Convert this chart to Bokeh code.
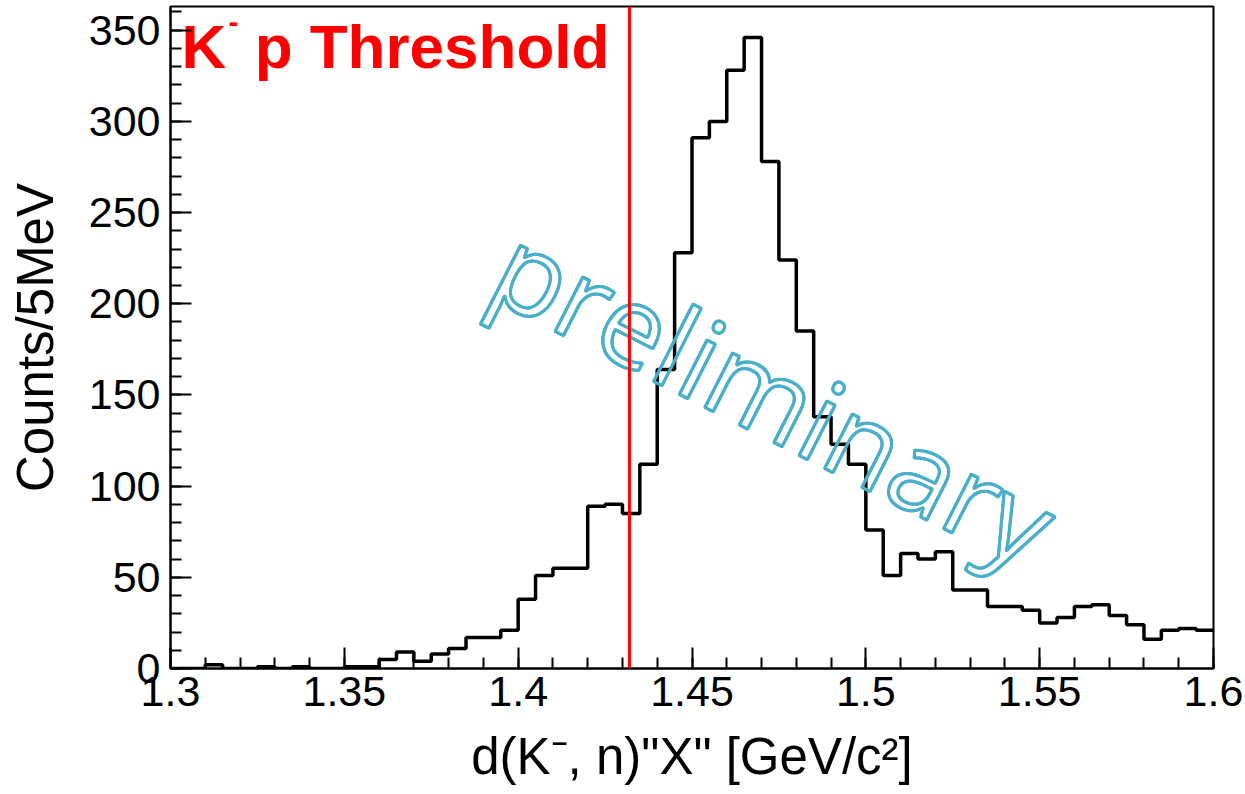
from bokeh.plotting import figure
from bokeh.models import FixedTicker, Span, Range1d
from bokeh.core.properties import value
from bokeh.embed import file_html
from bokeh.resources import INLINE

# ---- data ----
bin_low = 1.3
bin_width = 0.005
counts = [0, 0, 2, 0, 0, 1, 0, 1, 0, 0,
          1, 1, 5, 9, 4, 8, 11, 17, 17, 21,
          38, 51, 55, 55, 89, 90, 85, 112, 164, 228,
          291, 300, 328, 346, 278, 224, 185, 138, 123, 112,
          76, 51, 63, 60, 64, 43, 43, 34, 34, 32,
          25, 28, 34, 35, 29, 24, 16, 21, 22, 21]
threshold = 1.432  # K- p threshold [GeV/c^2]
x_ticks = [1.3, 1.35, 1.4, 1.45, 1.5, 1.55, 1.6]
x_tick_labels = ["1.3", "1.35", "1.4", "1.45", "1.5", "1.55", "1.6"]
x_minor = [round(1.3 + 0.01 * i, 3) for i in range(31)]
y_ticks = [0, 50, 100, 150, 200, 250, 300, 350]
y_minor = [10 * i for i in range(37)]

edges = [bin_low + i * bin_width for i in range(len(counts) + 1)]
ys = counts + [counts[-1]]

FONT = "Liberation Sans"

p = figure(width=1245, height=794,
           x_range=Range1d(1.3, 1.6), y_range=Range1d(0, 363),
           output_backend="svg", toolbar_location=None,
           min_border_left=170, min_border_right=32,
           min_border_top=6, min_border_bottom=126)
p.background_fill_color = "white"
p.border_fill_color = "white"
p.outline_line_color = "black"
p.outline_line_width = 2
p.xgrid.visible = False
p.ygrid.visible = False

p.xaxis.ticker = FixedTicker(ticks=x_ticks, minor_ticks=x_minor)
p.xaxis.major_label_overrides = {t: l for t, l in zip(x_ticks, x_tick_labels)}
p.yaxis.ticker = FixedTicker(ticks=y_ticks, minor_ticks=y_minor)

for ax in (p.xaxis[0], p.yaxis[0]):
    ax.major_tick_in = 21
    ax.major_tick_out = 0
    ax.minor_tick_in = 11
    ax.minor_tick_out = 0
    ax.axis_line_width = 2
    ax.major_tick_line_width = 2
    ax.minor_tick_line_width = 2
    ax.major_label_text_font = FONT
    ax.major_label_text_font_size = "43px"
    ax.major_label_text_color = "black"
    ax.axis_label_text_font = FONT
    ax.axis_label_text_font_size = "51px"
    ax.axis_label_text_font_style = "normal"
    ax.axis_label_text_color = "black"

p.xaxis.major_label_standoff = 8
p.yaxis.major_label_standoff = 10
p.xaxis.axis_label = 'd(K\u207b, n)"X" [GeV/c\u00b2]'
p.yaxis.axis_label = "Counts/5MeV"
p.xaxis.axis_label_standoff = 19
p.yaxis.axis_label_standoff = 22

# histogram outline
p.step(edges, ys, mode="after", line_width=3.5, line_color="black")

# threshold line
p.add_layout(Span(location=threshold, dimension="height",
                  line_color="#ff0000", line_width=3))

# threshold label
p.text(x=[1.30316], y=[341], text=["K"], text_font=value(FONT),
       text_font_style="bold", text_font_size="62px", text_color="#ff0000",
       text_baseline="alphabetic", text_align="left")
p.text(x=[1.3167], y=[354.5], text=["-"], text_font=value(FONT),
       text_font_style="bold", text_font_size="30px", text_color="#ff0000",
       text_baseline="alphabetic", text_align="left")
p.text(x=[1.3242], y=[341], text=["p Threshold"], text_font=value(FONT),
       text_font_style="bold", text_font_size="62px", text_color="#ff0000",
       text_baseline="alphabetic", text_align="left")

# preliminary watermark (outlined, stroke thickened by small offsets)
for dx, dy in [(0, 0), (1, 0), (0, 1), (1, 1)]:
    p.text(x=[1.474], y=[151], text=["preliminary"], angle=-0.47,
           x_offset=dx, y_offset=dy,
           text_font=value("Open Sans"), text_font_size="114px",
           text_color="rgba(255,255,255,0)", text_outline_color="#4aafc8",
           text_align="center", text_baseline="alphabetic")

open("out.html", "w").write(file_html(p, INLINE))
